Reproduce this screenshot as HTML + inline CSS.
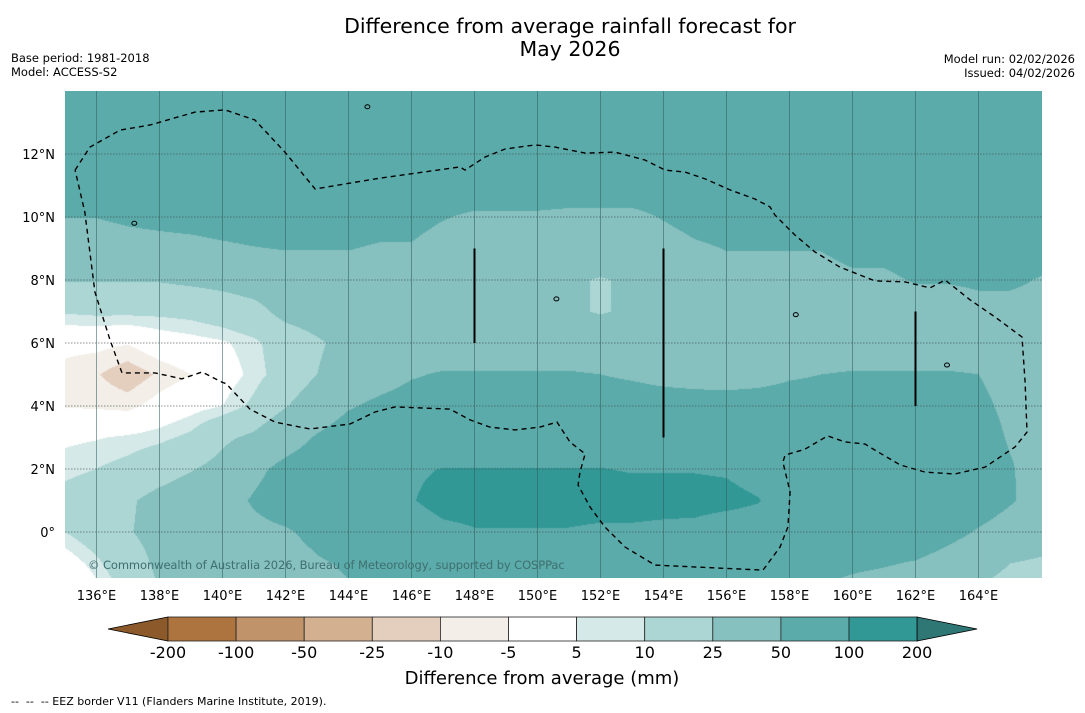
<!DOCTYPE html>
<html><head><meta charset="utf-8">
<style>
html,body{margin:0;padding:0;background:#fff;}
body{width:1085px;height:713px;position:relative;overflow:hidden;font-family:"DejaVu Sans","Liberation Sans",sans-serif;}
.t{position:absolute;white-space:nowrap;color:#000;}
#map{position:absolute;left:65px;top:91px;width:977px;height:487px;}
#ov{position:absolute;left:0;top:0;}
</style></head>
<body>
<div class="t" style="left:220px;top:15px;width:700px;text-align:center;font-size:20.5px;line-height:23px;">Difference from average rainfall forecast for<br>May 2026</div>
<div class="t" style="left:11px;top:51px;font-size:11.5px;line-height:14px;">Base period: 1981-2018<br>Model: ACCESS-S2</div>
<div class="t" style="right:10px;top:52px;font-size:11.5px;line-height:14px;text-align:right;">Model run: 02/02/2026<br>Issued: 04/02/2026</div>

<div id="map">
<canvas id="cv" width="977" height="487"></canvas>
<svg id="ov" width="977" height="487" style="overflow:visible"></svg>
</div>
<svg id="ax" width="1085" height="713" style="position:absolute;left:0;top:0;pointer-events:none"></svg>
<div class="t" style="left:88px;top:558px;font-size:11.5px;letter-spacing:-0.1px;color:#3f6f70;">© Commonwealth of Australia 2026, Bureau of Meteorology, supported by COSPPac</div>
<div class="t" style="left:342px;top:668px;width:400px;text-align:center;font-size:18px;">Difference from average (mm)</div>
<div class="t" style="left:11px;top:695px;font-size:11px;">--&nbsp; --&nbsp; -- EEZ border V11 (Flanders Marine Institute, 2019).</div>

<script>
const lonStart = 135;
const latStart = 14;
const levels = [-200,-100,-50,-25,-10,-5,5,10,25,50,100,200];
const levelLabels = ["-200","-100","-50","-25","-10","-5","5","10","25","50","100","200"];
const levelColors = ["#8c5a2a","#ae743f","#c0936a","#d3b190","#e4cfbf","#f3eee8","#ffffff","#d5e9e8","#acd6d4","#86c0bf","#5babaa","#329895","#2e7775"];
const lonTicks = [136,138,140,142,144,146,148,150,152,154,156,158,160,162,164];
const latTicks = [12,10,8,6,4,2,0];
// rows: lat 14 .. -2 ; cols: lon 135 .. 166
const rainRows = [
[70,70,70,70,70,70,70,70,70,70,70,70,70,70,70,70,70,70,70,70,70,70,70,70,70,70,70,70,70,70,70,70],
[70,70,70,70,70,70,70,70,70,70,70,70,70,70,70,70,70,70,70,70,70,70,70,70,70,70,70,70,70,70,70,70],
[70,70,70,70,70,70,70,70,70,70,70,70,70,70,70,70,70,70,70,70,70,70,70,70,70,70,70,70,70,70,70,70],
[70,70,70,70,70,70,70,70,70,70,70,70,70,70,70,70,70,70,70,70,70,70,70,70,70,70,70,70,70,70,70,70],
[50.5,50.5,55,58,60,62,64,65,65,65,62,62,52,45,45,45,42,42,42,52,62,66,66,66,67,68,68,70,70,70,70,70],
[35,35,38,40,42,46,49,51,51,51,47,47,35,35,35,35,35,35,35,35,45,51,51,51,51,58,58,64,64,66,66,63],
[26,26,26,26,28,30,33,35,35,35,35,35,35,35,35,35,27,24,27,35,40,40,40,40,40,45,45,52,52,55,55,48],
[11,12,12,12,13,16,20,30,33,35,35,35,35,35,35,35,27,24,27,35,35,35,35,35,35,35,35,35,35,40,40,40],
[-3,-3,-4.5,0,2,4,8,16,23,30,35,35,35,35,35,35,35,35,35,35,35,35,35,35,35,35,35,35,35,38,38,38],
[-7,-9.5,-14,-9,-5,1,7,14.5,25,33,40,48,52,52,52,52,52,50,48,45,43,42,44,48,50,52,52,52,52,50,42,38],
[-5.5,-6,-7,-2,2,5,12,24,35,48,55,60,60,60,60,60,60,58,58,58,58,58,58,58,58,58,58,58,56,55,45,35],
[3.5,4.5,6,8,12,22,28,40,52,62,65,65,65,65,65,65,65,65,65,65,65,65,65,65,65,65,65,65,65,60,48,38],
[8,10,13,18,24,30,45,56,62,68,78,95,101,101,101,101,101,101,98,98,98,96,85,72,68,68,68,68,68,62,52,40],
[13,16,23,30,35,42,52,60,65,70,80,98,112,112,112,112,112,112,112,112,112,110,102,80,70,70,70,70,70,62,52,42],
[10,16,24,30,33,38,45,48,55,62,70,80,92,98,98,98,98,95,95,92,90,80,80,80,68,68,68,68,58,48,40,36],
[0,8,18,28,32,35,38,42,48,52,58,65,65,65,65,65,65,65,65,65,65,65,65,65,60,55,52,48,40,32,25,22],
[-8,2,12,25,30,33,36,40,44,48,52,60,60,60,60,60,60,60,60,60,60,60,60,52,45,40,36,32,28,22,18,15]
];
// EEZ border (lon, lat)
const eezLon = [135.32,135.79,136.75,137.7,139.13,140.08,141.03,141.98,142.94,144.84,147.54,147.7,148.33,148.97,149.92,150.56,151.51,152.46,153.41,154.05,154.68,155.32,156.11,156.9,157.38,157.54,158.17,158.81,159.6,160.71,161.67,162.46,162.94,163.73,164.52,165.38,165.48,165.54,165.16,164.21,163.25,162.3,161.51,160.71,160.4,159.76,159.21,158.49,157.86,157.79,158.02,157.95,157.7,157.16,153.73,152.78,152.14,151.67,151.29,151.35,151.51,151.03,150.62,150.08,149.29,148.49,147.86,147.22,145.48,144.84,144.05,142.78,141.67,140.87,140.24,140.14,139.98,139.35,138.71,137.86,136.81,136.43,135.95,135.63,135.32];
const eezLat = [11.49,12.22,12.76,12.92,13.33,13.4,13.08,12.06,10.89,11.21,11.59,11.49,11.9,12.16,12.29,12.22,12.03,12.06,11.81,11.49,11.43,11.21,10.86,10.57,10.32,10.06,9.43,8.89,8.41,7.97,7.94,7.75,8.0,7.37,6.83,6.19,4.76,3.17,2.7,2.06,1.84,1.9,2.13,2.6,2.79,2.86,3.05,2.63,2.44,2.22,1.27,0.16,-0.48,-1.21,-1.05,-0.48,0.16,0.79,1.49,1.9,2.48,2.86,3.49,3.33,3.24,3.33,3.56,3.9,3.97,3.81,3.43,3.27,3.49,3.9,4.57,4.7,4.76,5.08,4.86,5.05,5.05,6.1,7.62,10.16,11.49];
const segLon = [148,154,162];
const segTop = [9,9,7];
const segBot = [6,3,4];

const PX = 31.5;
function xOf(lon){return (lon-lonStart)*PX;}
function yOf(lat){return (latStart-lat)*PX;}
function hex(c){return [parseInt(c.substr(1,2),16),parseInt(c.substr(3,2),16),parseInt(c.substr(5,2),16)];}
const rgb = levelColors.map(hex);
function cls(v){let i=0;while(i<levels.length&&v>=levels[i])i++;return i;}

const cv=document.getElementById('cv');const ctx=cv.getContext('2d');
const W=977,H=487;const img=ctx.createImageData(W,H);
const nr=rainRows.length,nc=rainRows[0].length;
for(let py=0;py<H;py++){
  let r=(py+0.5)/PX; if(r>nr-1)r=nr-1; const r0=Math.min(Math.floor(r),nr-2); const fr=r-r0;
  for(let px=0;px<W;px++){
    let c=(px+0.5)/PX; if(c>nc-1)c=nc-1; const c0=Math.min(Math.floor(c),nc-2); const fc=c-c0;
    const v=(rainRows[r0][c0]*(1-fc)+rainRows[r0][c0+1]*fc)*(1-fr)+(rainRows[r0+1][c0]*(1-fc)+rainRows[r0+1][c0+1]*fc)*fr;
    const col=rgb[cls(v)];const k=(py*W+px)*4;
    img.data[k]=col[0];img.data[k+1]=col[1];img.data[k+2]=col[2];img.data[k+3]=255;
  }
}
ctx.putImageData(img,0,0);

const NS='http://www.w3.org/2000/svg';
function mk(tag,attrs,parent){const e=document.createElementNS(NS,tag);for(const k in attrs)e.setAttribute(k,attrs[k]);parent.appendChild(e);return e;}
const ov=document.getElementById('ov');
lonTicks.forEach(l=>{
  const e=mk('line',{x1:xOf(l),x2:xOf(l),y1:0,y2:H,stroke:'#2f5c5c','stroke-opacity':'0.55','stroke-width':1},ov);
  
  
});
latTicks.forEach(l=>{
  const e=mk('line',{x1:0,x2:W,y1:yOf(l),y2:yOf(l),stroke:'#3a4a4a','stroke-opacity':'0.6','stroke-width':1,'stroke-dasharray':'1.5,1.5'},ov);
  
  
});
let d='';eezLon.forEach((l,i)=>{d+=(i?'L':'M')+xOf(l).toFixed(1)+','+yOf(eezLat[i]).toFixed(1);});
const eez=mk('path',{d:d,fill:'none',stroke:'#000','stroke-width':1.4,'stroke-dasharray':'5,4'},ov);


segLon.forEach((l,i)=>{
  const e=mk('line',{x1:xOf(l),x2:xOf(l),y1:yOf(segTop[i]),y2:yOf(segBot[i]),stroke:'#000','stroke-width':2},ov);
  
  
});
[[144.6,13.5],[150.6,7.4],[158.2,6.9],[163.0,5.3],[137.2,9.8]].forEach(p=>{
  const e=mk('ellipse',{cx:xOf(p[0]),cy:yOf(p[1]),rx:2.5,ry:2,fill:'none',stroke:'#000','stroke-width':1},ov);
  
  
});

const ax=document.getElementById('ax');
const FF='DejaVu Sans, Liberation Sans, sans-serif';
lonTicks.forEach(l=>{
  const t=mk('text',{x:65+xOf(l),y:600,'text-anchor':'middle','font-size':13,'font-family':FF},ax);
  t.textContent=l+'°E';
  
  
});
latTicks.forEach(l=>{
  const t=mk('text',{x:55,y:91+yOf(l)+5,'text-anchor':'end','font-size':13,'font-family':FF},ax);
  t.textContent=l===0?'0°':l+'°N';
  
  
});
const cbX0=168,cbW=68.1,cbY=617,cbH=24;
const lt=mk('polygon',{points:`108,${cbY+cbH/2} ${cbX0},${cbY} ${cbX0},${cbY+cbH}`,fill:levelColors[0],stroke:'#000','stroke-width':0.8},ax);


for(let i=0;i<levels.length-1;i++){
  const r=mk('rect',{x:cbX0+i*cbW,y:cbY,width:cbW,height:cbH,fill:levelColors[i+1],stroke:'#222','stroke-width':0.8},ax);
  
  
}
const cbX1=cbX0+(levels.length-1)*cbW;
const rt=mk('polygon',{points:`${cbX1},${cbY} ${cbX1+60},${cbY+cbH/2} ${cbX1},${cbY+cbH}`,fill:levelColors[levelColors.length-1],stroke:'#000','stroke-width':0.8},ax);


levelLabels.forEach((s,i)=>{
  const t=mk('text',{x:cbX0+i*cbW,y:658,'text-anchor':'middle','font-size':16,'font-family':FF},ax);
  t.textContent=s;
  
  
});
</script>
</body></html>
